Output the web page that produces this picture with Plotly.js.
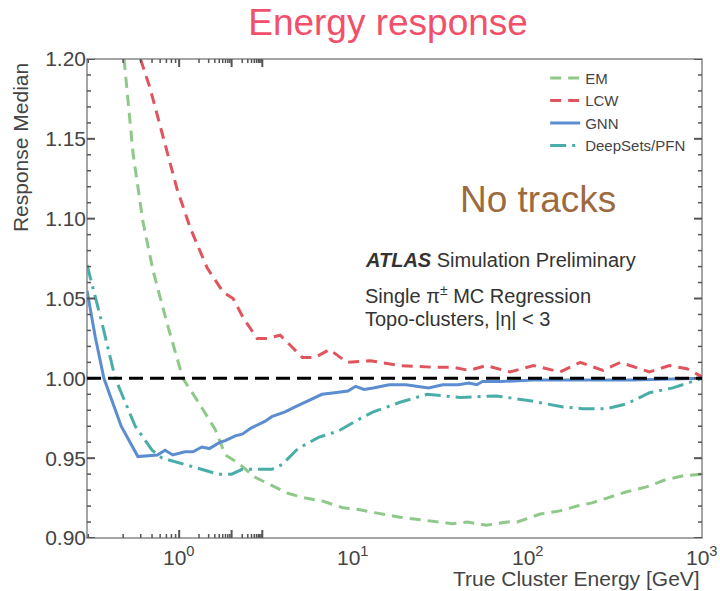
<!DOCTYPE html>
<html>
<head>
<meta charset="utf-8">
<script src="https://cdn.plot.ly/plotly-3.0.1.min.js"></script>
<style>html,body{margin:0;padding:0;background:#fff;}#chart{width:720px;height:591px;}</style>
</head>
<body>
<div id="chart"></div>
<script>
// ---- data ----
const emX = [0.483, 0.545, 0.62, 0.71, 0.85, 1.05, 1.29, 1.61, 1.84, 2.18, 2.73, 3.4, 4.2, 5.3, 6.7, 8.7, 10.5, 13, 18.5, 31, 37, 45, 58, 76, 87, 118, 153, 192, 234, 285, 370, 480, 600, 780, 1000];
const emY = [1.200, 1.140, 1.098, 1.067, 1.035, 1.000, 0.985, 0.968, 0.952, 0.947, 0.938, 0.933, 0.928, 0.925, 0.923, 0.919, 0.918, 0.916, 0.913, 0.910, 0.909, 0.910, 0.908, 0.910, 0.910, 0.915, 0.917, 0.920, 0.922, 0.925, 0.929, 0.932, 0.936, 0.939, 0.940];

const lcwX = [0.60, 0.68, 0.81, 0.97, 1.16, 1.45, 1.79, 2.04, 2.33, 2.8, 3.2, 3.8, 4.5, 5.1, 6.0, 7.3, 9.2, 12.5, 18.6, 28, 37, 46, 58, 79, 108, 153, 200, 270, 340, 500, 650, 820, 1000];
const lcwY = [1.200, 1.182, 1.151, 1.119, 1.094, 1.069, 1.054, 1.050, 1.038, 1.025, 1.025, 1.027, 1.019, 1.013, 1.013, 1.018, 1.010, 1.011, 1.008, 1.007, 1.007, 1.005, 1.008, 1.004, 1.008, 1.004, 1.010, 1.005, 1.010, 1.004, 1.008, 1.006, 1.001];

const gnnX = [0.296, 0.33, 0.37, 0.465, 0.58, 0.75, 0.83, 0.92, 1.08, 1.2, 1.35, 1.49, 1.72, 1.84, 2.1, 2.3, 2.6, 3.1, 3.4, 4.05, 4.6, 5.3, 6.6, 7.8, 9.3, 10.3, 11.5, 13, 16, 20, 23, 27, 32.5, 40, 46, 51, 55, 70, 108, 200, 400, 1000];
const gnnY = [1.055, 1.026, 1.000, 0.970, 0.951, 0.952, 0.955, 0.952, 0.954, 0.954, 0.957, 0.956, 0.960, 0.961, 0.964, 0.965, 0.969, 0.973, 0.976, 0.979, 0.982, 0.985, 0.990, 0.991, 0.992, 0.995, 0.993, 0.994, 0.996, 0.996, 0.995, 0.994, 0.996, 0.996, 0.997, 0.996, 0.998, 0.998, 0.999, 0.999, 0.999, 1.000];

const dsX = [0.296, 0.36, 0.43, 0.56, 0.70, 0.80, 1.08, 1.35, 1.67, 2.0, 2.3, 2.6, 3.4, 3.9, 4.8, 6.3, 8.2, 10.6, 13, 18.5, 26.5, 41, 66, 103, 160, 208, 285, 370, 500, 680, 1000];
const dsY = [1.071, 1.035, 1.000, 0.970, 0.955, 0.950, 0.946, 0.943, 0.940, 0.940, 0.943, 0.943, 0.943, 0.946, 0.956, 0.963, 0.967, 0.974, 0.979, 0.985, 0.990, 0.988, 0.989, 0.986, 0.982, 0.981, 0.981, 0.984, 0.991, 0.994, 1.000];

const xTickVals = [1, 10, 100, 1000];
const xTickText = ['10<sup>0</sup>', '10<sup>1</sup>', '10<sup>2</sup>', '10<sup>3</sup>'];
const yTickVals = [0.90, 0.95, 1.00, 1.05, 1.10, 1.15, 1.20];
const refY = 1.0;

const FONT = 'Liberation Sans, Arial, Helvetica, sans-serif';
const X_MIN = 0.296, X_MAX = 1000, Y_MIN = 0.90, Y_MAX = 1.20;

const traces = [
  {x: emX, y: emY, name: 'EM', mode: 'lines', line: {color: '#8fc98a', width: 3, dash: '11px,7px'}},
  {x: lcwX, y: lcwY, name: 'LCW', mode: 'lines', line: {color: '#e0545d', width: 3, dash: '11px,7px'}},
  {x: gnnX, y: gnnY, name: 'GNN', mode: 'lines', line: {color: '#5b8dd0', width: 3}},
  {x: dsX, y: dsY, name: 'DeepSets/PFN', mode: 'lines', line: {color: '#4aaea8', width: 3, dash: '16px,6px,3px,6px'}}
];

// ---- axis decoration: frame and inside ticks (drawn as shapes on the axes' own scales) ----
const TICK_COL = '#555';
const decor = [];
decor.push({type: 'rect', xref: 'paper', yref: 'paper', x0: 0, x1: 1, y0: 0, y1: 1,
            line: {color: '#888', width: 1.5}, fillcolor: 'rgba(0,0,0,0)'});
function yTick(v, len, w) {
  decor.push({type: 'line', xref: 'paper', xsizemode: 'pixel', xanchor: 0, x0: 0, x1: len, yref: 'y', y0: v, y1: v,
              line: {color: TICK_COL, width: w}});
  decor.push({type: 'line', xref: 'paper', xsizemode: 'pixel', xanchor: 1, x0: -len, x1: 0, yref: 'y', y0: v, y1: v,
              line: {color: TICK_COL, width: w}});
}
function xTick(v, len, w) {
  decor.push({type: 'line', yref: 'paper', ysizemode: 'pixel', yanchor: 0, y0: 0, y1: len, xref: 'x', x0: v, x1: v,
              line: {color: TICK_COL, width: w}});
  decor.push({type: 'line', yref: 'paper', ysizemode: 'pixel', yanchor: 1, y0: -len, y1: 0, xref: 'x', x0: v, x1: v,
              line: {color: TICK_COL, width: w}});
}
yTickVals.forEach(v => yTick(v, 8, 2));
for (let k = 1; k < 30; k++) {
  const v = +(Y_MIN + k * 0.01).toFixed(2);
  if (Math.round(v * 100) % 5 !== 0) yTick(v, 4, 1.5);
}
xTickVals.forEach(v => xTick(Math.log10(v), 8, 2));
[0.1, 1, 10, 100].forEach(dec => {
  for (let d = 2; d <= 9; d++) {
    const v = d * dec;
    if (v > X_MIN && v < X_MAX) xTick(Math.log10(v), 4, 1.5);
  }
});
decor.push({type: 'line', xref: 'paper', x0: 0, x1: 1, yref: 'y', y0: refY, y1: refY,
            line: {color: '#000', width: 3, dash: '14px,7px'}});

const xLabelAnns = xTickVals.map((v, i) => ({
  text: xTickText[i], xref: 'x', yref: 'paper', x: Math.log10(v), y: -0.006,
  xanchor: 'center', yanchor: 'top', showarrow: false, font: {family: FONT, size: 21, color: '#444'}
}));

const layout = {
  width: 720, height: 591,
  margin: {l: 87, r: 18, t: 59, b: 53},
  title: {text: 'Energy response', font: {family: FONT, size: 37, color: '#f2506a'},
          x: 0.539, xanchor: 'center', xref: 'container', y: 0.962, yanchor: 'middle', yref: 'container'},
  showlegend: true,
  legend: {x: 0.745, y: 0.994, xanchor: 'left', yanchor: 'top', bgcolor: 'rgba(0,0,0,0)',
           font: {family: FONT, size: 15, color: '#444'}},
  xaxis: {
    type: 'log', range: [Math.log10(X_MIN), Math.log10(X_MAX)], showticklabels: false,
    ticks: '', showline: false, showgrid: false, zeroline: false
  },
  yaxis: {
    range: [Y_MIN, Y_MAX], tickmode: 'linear', tick0: yTickVals[0], dtick: yTickVals[1] - yTickVals[0], tickformat: '.2f',
    ticks: '', showline: false, showgrid: false, zeroline: false,
    tickfont: {family: FONT, size: 21, color: '#444'}
  },
  shapes: decor,
  annotations: xLabelAnns.concat([
    {text: 'No tracks', xref: 'paper', yref: 'paper', x: 0.733, y: 0.706, xanchor: 'center', yanchor: 'middle',
     showarrow: false, font: {family: FONT, size: 37, color: '#9b6b3f'}},
    {text: '<b><i>ATLAS</i></b> Simulation Preliminary', xref: 'paper', yref: 'paper', x: 0.449, y: 0.580,
     xanchor: 'left', yanchor: 'middle', showarrow: false, font: {family: FONT, size: 20, color: '#333'}},
    {text: 'Single π<sup>±</sup> MC Regression', xref: 'paper', yref: 'paper', x: 0.449, y: 0.509,
     xanchor: 'left', yanchor: 'middle', showarrow: false, font: {family: FONT, size: 20, color: '#333'}},
    {text: 'Topo-clusters, |η| &lt; 3', xref: 'paper', yref: 'paper', x: 0.449, y: 0.458,
     xanchor: 'left', yanchor: 'middle', showarrow: false, font: {family: FONT, size: 20, color: '#333'}},
    {text: 'True Cluster Energy [GeV]', xref: 'paper', yref: 'paper', x: 1.0, y: -0.084,
     xanchor: 'right', yanchor: 'middle', showarrow: false, font: {family: FONT, size: 21, color: '#444'}},
    {text: 'Response Median', xref: 'paper', yref: 'paper', x: -0.109, y: 0.816, textangle: -90,
     xanchor: 'center', yanchor: 'middle', showarrow: false, font: {family: FONT, size: 21, color: '#444'}}
  ])
};

Plotly.newPlot('chart', traces, layout, {displayModeBar: false, staticPlot: true});
</script>
</body>
</html>
